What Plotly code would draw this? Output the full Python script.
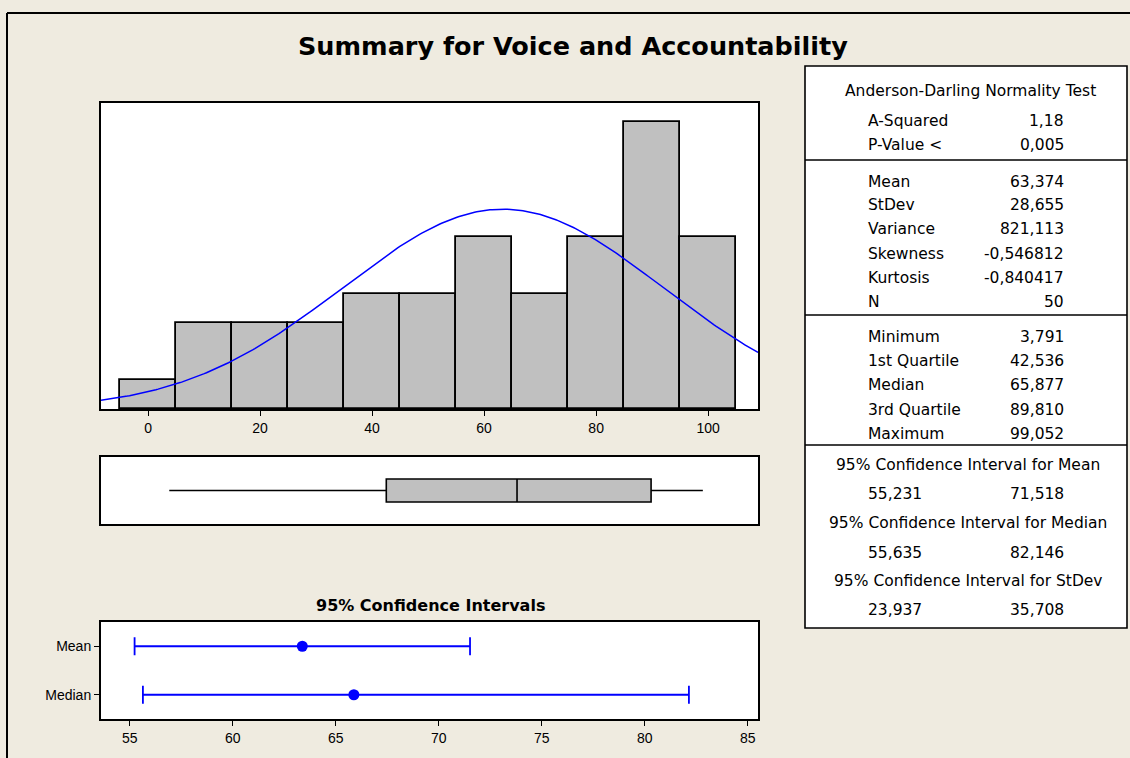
import numpy as np
import plotly.graph_objects as go

W, H = 1130, 758

# ---------------- data ----------------
bin_centers = [0, 10, 20, 30, 40, 50, 60, 70, 80, 90, 100]
bin_counts = [1, 3, 3, 3, 4, 4, 6, 4, 6, 10, 6]
bin_width = 10

mean_val = 63.374
stdev_val = 28.655
n_val = 50
minimum = 3.791
q1 = 42.536
median_val = 65.877
q3 = 89.810
maximum = 99.052

ci_labels = ["Mean", "Median"]
ci_centers = [63.374, 65.877]
ci_low = [55.231, 55.635]
ci_high = [71.518, 82.146]

hist_ticks = [0, 20, 40, 60, 80, 100]
ci_ticks = [55, 60, 65, 70, 75, 80, 85]

table_header = "Anderson-Darling Normality Test"
table_block1 = [("A-Squared", "1,18"), ("P-Value <", "0,005")]
table_block2 = [("Mean", "63,374"), ("StDev", "28,655"), ("Variance", "821,113"),
                ("Skewness", "-0,546812"), ("Kurtosis", "-0,840417"), ("N", "50")]
table_block3 = [("Minimum", "3,791"), ("1st Quartile", "42,536"), ("Median", "65,877"),
                ("3rd Quartile", "89,810"), ("Maximum", "99,052")]
ci_titles = ["95% Confidence Interval for Mean",
             "95% Confidence Interval for Median",
             "95% Confidence Interval for StDev"]
ci_values = [("55,231", "71,518"), ("55,635", "82,146"), ("23,937", "35,708")]

# --------------- helpers ---------------
def px(x):
    return x / W

def py(y):
    return 1 - y / H

FONT = "Liberation Sans, Arial, sans-serif"
WFONT = "DejaVu Sans, Verdana, sans-serif"
BG = "#EFEBE0"

fig = go.Figure()

# histogram
fig.add_trace(go.Bar(x=bin_centers, y=bin_counts, width=bin_width,
                     marker=dict(color="#C0C0C0", line=dict(color="black", width=1.8)),
                     xaxis="x", yaxis="y", showlegend=False, hoverinfo="skip"))

# fitted normal curve (from mean / stdev of the summary)
xr = (-8.4, 108.9)
xc = np.linspace(xr[0], xr[1], 300)
yc = n_val * bin_width * np.exp(-0.5 * ((xc - mean_val) / stdev_val) ** 2) / (stdev_val * np.sqrt(2 * np.pi))
fig.add_trace(go.Scatter(x=xc, y=yc, mode="lines", line=dict(color="#0000FF", width=1.5),
                         xaxis="x", yaxis="y", showlegend=False, hoverinfo="skip"))

# boxplot
fig.add_trace(go.Box(y=[0], q1=[q1], median=[median_val], q3=[q3],
                     lowerfence=[minimum], upperfence=[maximum], orientation="h",
                     fillcolor="#C0C0C0", line=dict(color="black", width=1.6),
                     whiskerwidth=0, width=0.69, boxpoints=False,
                     xaxis="x2", yaxis="y2", showlegend=False, hoverinfo="skip"))

# confidence intervals
ci_y = [1, 0]
fig.add_trace(go.Scatter(
    x=ci_centers, y=ci_y, mode="markers",
    marker=dict(color="#0000FF", size=11),
    error_x=dict(type="data", symmetric=False,
                 array=[h - c for h, c in zip(ci_high, ci_centers)],
                 arrayminus=[c - l for c, l in zip(ci_centers, ci_low)],
                 color="#0000FF", thickness=1.8, width=9),
    xaxis="x3", yaxis="y3", showlegend=False, hoverinfo="skip"))

xdom = [px(101), px(758)]
axis_line = dict(showline=True, linecolor="black", linewidth=2, mirror=True, showgrid=False, zeroline=False)

fig.update_layout(
    width=W, height=H, autosize=False,
    margin=dict(l=0, r=0, t=0, b=0),
    paper_bgcolor=BG, plot_bgcolor="white",
    font=dict(family=FONT, color="black"),
    bargap=0,
    xaxis=dict(domain=xdom, range=list(xr), tickvals=hist_ticks, ticks="outside", ticklen=5,
               tickwidth=1.3, tickcolor="black", tickfont=dict(size=14), anchor="y", **axis_line),
    yaxis=dict(domain=[py(409), py(103)], range=[0, 10.66], showticklabels=False, ticks="",
               anchor="x", **axis_line),
    xaxis2=dict(domain=xdom, range=list(xr), showticklabels=False, ticks="", anchor="y2", **axis_line),
    yaxis2=dict(domain=[py(524), py(457)], range=[-1, 1], showticklabels=False, ticks="",
                anchor="x2", **axis_line),
    xaxis3=dict(domain=xdom, range=[53.6, 85.5], tickvals=ci_ticks, ticks="outside", ticklen=5,
                tickwidth=1.3, tickcolor="black", tickfont=dict(size=14), anchor="y3", **axis_line),
    yaxis3=dict(domain=[py(719), py(622)], range=[-0.5, 1.5], tickvals=ci_y, ticktext=ci_labels,
                ticks="outside", ticklen=5, tickwidth=1.3, tickcolor="black",
                tickfont=dict(size=14), anchor="x3", **axis_line),
)

shapes = []
annotations = []

# outer frame lines
shapes.append(dict(type="line", xref="paper", yref="paper", x0=px(7), x1=px(7), y0=py(13), y1=0,
                   line=dict(color="black", width=2)))
shapes.append(dict(type="line", xref="paper", yref="paper", x0=px(7), x1=1, y0=py(13), y1=py(13),
                   line=dict(color="black", width=2)))

# title
annotations.append(dict(text="<b>Summary for Voice and Accountability</b>", xref="paper", yref="paper",
                        x=px(573), y=py(46), showarrow=False, xanchor="center", yanchor="middle",
                        font=dict(size=25.5, family=WFONT)))
annotations.append(dict(text="<b>95% Confidence Intervals</b>", xref="paper", yref="paper",
                        x=px(430), y=py(605), showarrow=False, xanchor="center", yanchor="middle",
                        font=dict(size=16, family=WFONT)))

# table box
tx0, tx1, ty0, ty1 = 805, 1127, 66, 628
shapes.append(dict(type="rect", xref="paper", yref="paper", x0=px(tx0), x1=px(tx1), y0=py(ty1), y1=py(ty0),
                   fillcolor="white", line=dict(color="black", width=1.6), layer="below"))
for yd in [160, 315, 445]:
    shapes.append(dict(type="line", xref="paper", yref="paper", x0=px(tx0), x1=px(tx1), y0=py(yd), y1=py(yd),
                       line=dict(color="black", width=1.6)))

TS = 15.5
lab_x, val_x = 866, 1066
center_x = (tx0 + tx1) / 2

def add_text(t, x, y, anchor):
    annotations.append(dict(text=t, xref="paper", yref="paper", x=px(x), y=py(y), showarrow=False,
                            xanchor=anchor, yanchor="middle", font=dict(size=TS, family=WFONT)))

add_text(table_header, center_x + 4, 91, "center")
for (lab, val), yy in zip(table_block1, [121, 145]):
    add_text(lab, lab_x, yy, "left")
    add_text(val, val_x, yy, "right")
for (lab, val), yy in zip(table_block2, [182, 205, 229, 254, 278, 302]):
    add_text(lab, lab_x, yy, "left")
    add_text(val, val_x, yy, "right")
for (lab, val), yy in zip(table_block3, [337, 361, 385, 410, 434]):
    add_text(lab, lab_x, yy, "left")
    add_text(val, val_x, yy, "right")
for title, (lo, hi), yt, yv in zip(ci_titles, ci_values, [465, 523, 581], [494, 553, 610]):
    add_text(title, center_x + 2, yt, "center")
    add_text(lo, lab_x, yv, "left")
    add_text(hi, val_x, yv, "right")

fig.update_layout(shapes=shapes, annotations=annotations)
fig.write_html("out.html", config={"displayModeBar": False},
               post_script="document.body.style.margin='0px';document.body.style.background='%s';" % BG)
